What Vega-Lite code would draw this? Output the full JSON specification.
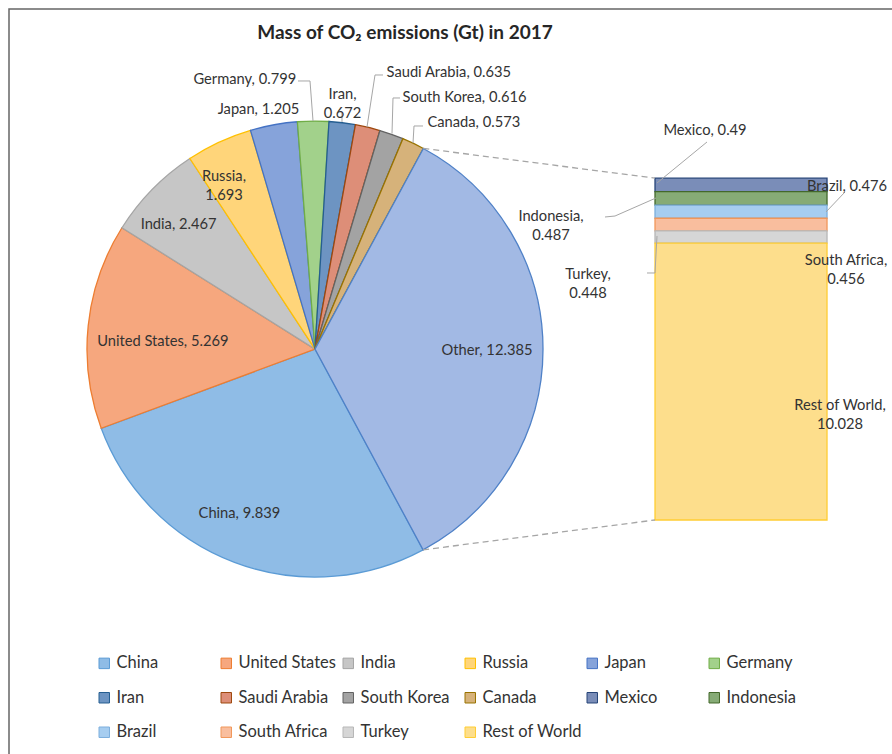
{
  "$schema": "https://vega.github.io/schema/vega-lite/v6.json",
  "width": 890,
  "height": 752,
  "autosize": {"type": "none"},
  "padding": {"left": 9, "top": 9, "right": 0, "bottom": 0},
  "background": "white",
  "title": {"text": "Mass of CO₂ emissions (Gt) in 2017", "font": "Lato", "fontSize": 19, "fontWeight": "bold", "color": "#262626", "anchor": "middle", "dx": -49, "offset": -34},
  "config": {
    "view": {"stroke": "#666666", "strokeWidth": 1.5},
    "axis": {"disable": true},
    "text": {"font": "Lato", "fontSize": 14.7, "fill": "#333333", "lineBreak": "\n", "lineHeight": 19, "baseline": "middle", "align": "center"}
  },
  "data": {"values": [
    {"part": "pie", "country": "China", "value": 9.839, "order": 1},
    {"part": "pie", "country": "United States", "value": 5.269, "order": 2},
    {"part": "pie", "country": "India", "value": 2.467, "order": 3},
    {"part": "pie", "country": "Russia", "value": 1.693, "order": 4},
    {"part": "pie", "country": "Japan", "value": 1.205, "order": 5},
    {"part": "pie", "country": "Germany", "value": 0.799, "order": 6},
    {"part": "pie", "country": "Iran", "value": 0.672, "order": 7},
    {"part": "pie", "country": "Saudi Arabia", "value": 0.635, "order": 8},
    {"part": "pie", "country": "South Korea", "value": 0.616, "order": 9},
    {"part": "pie", "country": "Canada", "value": 0.573, "order": 10},
    {"part": "pie", "country": "Other", "value": 12.385, "order": 11},
    {"part": "bar", "country": "Mexico", "value": 0.49, "order": 1},
    {"part": "bar", "country": "Indonesia", "value": 0.487, "order": 2},
    {"part": "bar", "country": "Brazil", "value": 0.476, "order": 3},
    {"part": "bar", "country": "South Africa", "value": 0.456, "order": 4},
    {"part": "bar", "country": "Turkey", "value": 0.448, "order": 5},
    {"part": "bar", "country": "Rest of World", "value": 10.028, "order": 6}
  ]},
  "transform": [
    {"calculate": "indexof(['Russia','Iran','Indonesia','Turkey','South Africa','Rest of World'], datum.country) >= 0 ? datum.country + ',\\n' + datum.value : datum.country + ', ' + datum.value", "as": "label"}
  ],
  "layer": [
    {
      "transform": [{"filter": "datum.part === 'pie'"}],
      "mark": {"type": "arc", "outerRadius": 228, "strokeWidth": 1.3},
      "encoding": {
        "theta": {"field": "value", "type": "quantitative", "stack": true, "scale": {"range": [2.6477, 8.9309]}},
        "order": {"field": "order"},
        "x": {"datum": 0, "type": "quantitative", "scale": {"domain": [-11.087, 21.159], "nice": false, "zero": false}},
        "y": {"datum": 6.1925, "type": "quantitative", "scale": {"domain": [-8.732, 18.514], "nice": false, "zero": false}},
        "fill": {"field": "country", "type": "nominal",
          "scale": {"domain": ["China","United States","India","Russia","Japan","Germany","Iran","Saudi Arabia","South Korea","Canada","Mexico","Indonesia","Brazil","South Africa","Turkey","Rest of World","Other"],
                    "range": ["#8FBCE6","#F6A77E","#C6C6C6","#FFD57A","#86A3DA","#A2D18B","#6D94C2","#DD8E78","#A3A3A3","#D6B27A","#7A8DB8","#86AB76","#A6CDF0","#F9BE9E","#D6D6D6","#FDDE8C","#A2B9E4"]},
          "legend": {"values": ["China","United States","India","Russia","Japan","Germany","Iran","Saudi Arabia","South Korea","Canada","Mexico","Indonesia","Brazil","South Africa","Turkey","Rest of World"],
                     "orient": "none", "direction": "horizontal", "legendX": 87, "legendY": 646, "columns": 6, "gridAlign": "all", "columnPadding": 1, "rowPadding": 17.5, "title": null,
                     "symbolType": "square", "symbolSize": 110, "symbolStrokeWidth": 1, "labelFont": "Lato", "labelFontSize": 16.5, "labelColor": "#333333", "labelOffset": 4}},
        "stroke": {"field": "country", "type": "nominal",
          "scale": {"domain": ["China","United States","India","Russia","Japan","Germany","Iran","Saudi Arabia","South Korea","Canada","Mexico","Indonesia","Brazil","South Africa","Turkey","Rest of World","Other"],
                    "range": ["#5B9BD5","#ED7D31","#A5A5A5","#FFC000","#4472C4","#70AD47","#255E91","#9E480E","#636363","#997300","#264478","#43682B","#7CAFDD","#F1975A","#B7B7B7","#FFCD33","#4F81C7"]},
          "legend": {"values": ["China","United States","India","Russia","Japan","Germany","Iran","Saudi Arabia","South Korea","Canada","Mexico","Indonesia","Brazil","South Africa","Turkey","Rest of World"],
                     "orient": "none", "direction": "horizontal", "legendX": 87, "legendY": 646, "columns": 6, "gridAlign": "all", "columnPadding": 1, "rowPadding": 17.5, "title": null,
                     "symbolType": "square", "symbolSize": 110, "symbolStrokeWidth": 1, "labelFont": "Lato", "labelFontSize": 16.5, "labelColor": "#333333", "labelOffset": 4}}
      }
    },
    {
      "transform": [{"filter": "datum.part === 'bar'"}, {"stack": "value", "groupby": [], "sort": [{"field": "order", "order": "descending"}], "as": ["y0", "y1"]}],
      "mark": {"type": "rect", "strokeWidth": 1.3},
      "encoding": {
        "x": {"datum": 12.319, "type": "quantitative", "scale": {"domain": [-11.087, 21.159], "nice": false, "zero": false}},
        "x2": {"datum": 18.551},
        "y": {"field": "y0", "type": "quantitative", "scale": {"domain": [-8.732, 18.514], "nice": false, "zero": false}},
        "y2": {"field": "y1"},
        "fill": {"field": "country", "type": "nominal"},
        "stroke": {"field": "country", "type": "nominal"}
      }
    },
    {"data": {"values": [{}]}, "mark": {"type": "rule", "color": "#A6A6A6", "strokeWidth": 1.3, "strokeDash": [6, 4]},
     "encoding": {"x": {"datum": 3.925, "type": "quantitative", "scale": {"domain": [-11.087, 21.159], "nice": false, "zero": false}}, "y": {"datum": 13.463, "type": "quantitative", "scale": {"domain": [-8.732, 18.514], "nice": false, "zero": false}}, "x2": {"datum": 12.319}, "y2": {"datum": 12.385}}},
    {"data": {"values": [{}]}, "mark": {"type": "rule", "color": "#A6A6A6", "strokeWidth": 1.3, "strokeDash": [6, 4]},
     "encoding": {"x": {"datum": 3.917, "type": "quantitative", "scale": {"domain": [-11.087, 21.159], "nice": false, "zero": false}}, "y": {"datum": -1.081, "type": "quantitative", "scale": {"domain": [-8.732, 18.514], "nice": false, "zero": false}}, "x2": {"datum": 12.319}, "y2": {"datum": 0}}},
    {"data": {"values": [{}]}, "mark": {"type": "rule", "color": "#A6A6A6", "strokeWidth": 1},
     "encoding": {"x": {"datum": -0.616, "type": "quantitative", "scale": {"domain": [-11.087, 21.159], "nice": false, "zero": false}}, "y": {"datum": 15.906, "type": "quantitative", "scale": {"domain": [-8.732, 18.514], "nice": false, "zero": false}}, "x2": {"datum": -0.181}, "y2": {"datum": 15.906}}},
    {"data": {"values": [{}]}, "mark": {"type": "rule", "color": "#A6A6A6", "strokeWidth": 1},
     "encoding": {"x": {"datum": -0.181, "type": "quantitative", "scale": {"domain": [-11.087, 21.159], "nice": false, "zero": false}}, "y": {"datum": 15.906, "type": "quantitative", "scale": {"domain": [-8.732, 18.514], "nice": false, "zero": false}}, "x2": {"datum": -0.072}, "y2": {"datum": 14.457}}},
    {"data": {"values": [{}]}, "mark": {"type": "rule", "color": "#A6A6A6", "strokeWidth": 1},
     "encoding": {"x": {"datum": 0.978, "type": "quantitative", "scale": {"domain": [-11.087, 21.159], "nice": false, "zero": false}}, "y": {"datum": 14.746, "type": "quantitative", "scale": {"domain": [-8.732, 18.514], "nice": false, "zero": false}}, "x2": {"datum": 0.978}, "y2": {"datum": 14.42}}},
    {"data": {"values": [{}]}, "mark": {"type": "rule", "color": "#A6A6A6", "strokeWidth": 1},
     "encoding": {"x": {"datum": 2.464, "type": "quantitative", "scale": {"domain": [-11.087, 21.159], "nice": false, "zero": false}}, "y": {"datum": 16.123, "type": "quantitative", "scale": {"domain": [-8.732, 18.514], "nice": false, "zero": false}}, "x2": {"datum": 2.174}, "y2": {"datum": 16.123}}},
    {"data": {"values": [{}]}, "mark": {"type": "rule", "color": "#A6A6A6", "strokeWidth": 1},
     "encoding": {"x": {"datum": 2.174, "type": "quantitative", "scale": {"domain": [-11.087, 21.159], "nice": false, "zero": false}}, "y": {"datum": 16.123, "type": "quantitative", "scale": {"domain": [-8.732, 18.514], "nice": false, "zero": false}}, "x2": {"datum": 1.884}, "y2": {"datum": 14.239}}},
    {"data": {"values": [{}]}, "mark": {"type": "rule", "color": "#A6A6A6", "strokeWidth": 1},
     "encoding": {"x": {"datum": 3.08, "type": "quantitative", "scale": {"domain": [-11.087, 21.159], "nice": false, "zero": false}}, "y": {"datum": 15.29, "type": "quantitative", "scale": {"domain": [-8.732, 18.514], "nice": false, "zero": false}}, "x2": {"datum": 2.826}, "y2": {"datum": 15.29}}},
    {"data": {"values": [{}]}, "mark": {"type": "rule", "color": "#A6A6A6", "strokeWidth": 1},
     "encoding": {"x": {"datum": 2.826, "type": "quantitative", "scale": {"domain": [-11.087, 21.159], "nice": false, "zero": false}}, "y": {"datum": 15.29, "type": "quantitative", "scale": {"domain": [-8.732, 18.514], "nice": false, "zero": false}}, "x2": {"datum": 2.79}, "y2": {"datum": 14.0}}},
    {"data": {"values": [{}]}, "mark": {"type": "rule", "color": "#A6A6A6", "strokeWidth": 1},
     "encoding": {"x": {"datum": 3.913, "type": "quantitative", "scale": {"domain": [-11.087, 21.159], "nice": false, "zero": false}}, "y": {"datum": 14.275, "type": "quantitative", "scale": {"domain": [-8.732, 18.514], "nice": false, "zero": false}}, "x2": {"datum": 3.587}, "y2": {"datum": 14.275}}},
    {"data": {"values": [{}]}, "mark": {"type": "rule", "color": "#A6A6A6", "strokeWidth": 1},
     "encoding": {"x": {"datum": 3.587, "type": "quantitative", "scale": {"domain": [-11.087, 21.159], "nice": false, "zero": false}}, "y": {"datum": 14.275, "type": "quantitative", "scale": {"domain": [-8.732, 18.514], "nice": false, "zero": false}}, "x2": {"datum": 3.551}, "y2": {"datum": 13.659}}},
    {"data": {"values": [{}]}, "mark": {"type": "rule", "color": "#A6A6A6", "strokeWidth": 1},
     "encoding": {"x": {"datum": 14.203, "type": "quantitative", "scale": {"domain": [-11.087, 21.159], "nice": false, "zero": false}}, "y": {"datum": 13.696, "type": "quantitative", "scale": {"domain": [-8.732, 18.514], "nice": false, "zero": false}}, "x2": {"datum": 12.391}, "y2": {"datum": 12.21}}},
    {"data": {"values": [{}]}, "mark": {"type": "rule", "color": "#A6A6A6", "strokeWidth": 1},
     "encoding": {"x": {"datum": 10.507, "type": "quantitative", "scale": {"domain": [-11.087, 21.159], "nice": false, "zero": false}}, "y": {"datum": 10.978, "type": "quantitative", "scale": {"domain": [-8.732, 18.514], "nice": false, "zero": false}}, "x2": {"datum": 10.87}, "y2": {"datum": 11.014}}},
    {"data": {"values": [{}]}, "mark": {"type": "rule", "color": "#A6A6A6", "strokeWidth": 1},
     "encoding": {"x": {"datum": 10.87, "type": "quantitative", "scale": {"domain": [-11.087, 21.159], "nice": false, "zero": false}}, "y": {"datum": 11.014, "type": "quantitative", "scale": {"domain": [-8.732, 18.514], "nice": false, "zero": false}}, "x2": {"datum": 12.355}, "y2": {"datum": 11.667}}},
    {"data": {"values": [{}]}, "mark": {"type": "rule", "color": "#A6A6A6", "strokeWidth": 1},
     "encoding": {"x": {"datum": 19.203, "type": "quantitative", "scale": {"domain": [-11.087, 21.159], "nice": false, "zero": false}}, "y": {"datum": 11.884, "type": "quantitative", "scale": {"domain": [-8.732, 18.514], "nice": false, "zero": false}}, "x2": {"datum": 18.514}, "y2": {"datum": 11.159}}},
    {"data": {"values": [{}]}, "mark": {"type": "rule", "color": "#A6A6A6", "strokeWidth": 1},
     "encoding": {"x": {"datum": 12.029, "type": "quantitative", "scale": {"domain": [-11.087, 21.159], "nice": false, "zero": false}}, "y": {"datum": 8.949, "type": "quantitative", "scale": {"domain": [-8.732, 18.514], "nice": false, "zero": false}}, "x2": {"datum": 12.319}, "y2": {"datum": 8.949}}},
    {"data": {"values": [{}]}, "mark": {"type": "rule", "color": "#A6A6A6", "strokeWidth": 1},
     "encoding": {"x": {"datum": 12.319, "type": "quantitative", "scale": {"domain": [-11.087, 21.159], "nice": false, "zero": false}}, "y": {"datum": 8.949, "type": "quantitative", "scale": {"domain": [-8.732, 18.514], "nice": false, "zero": false}}, "x2": {"datum": 12.391}, "y2": {"datum": 10.29}}},
    {"transform": [{"filter": "datum.part === 'pie'"}], "mark": {"type": "text", "radius": 180, "dx": -12, "dy": -3},
     "encoding": {"theta": {"field": "value", "type": "quantitative", "stack": true}, "order": {"field": "order"}, "x": {"datum": 0, "type": "quantitative", "scale": {"domain": [-11.087, 21.159], "nice": false, "zero": false}}, "y": {"datum": 6.1925, "type": "quantitative", "scale": {"domain": [-8.732, 18.514], "nice": false, "zero": false}}, "text": {"condition": {"test": "datum.country === 'China'", "field": "label"}, "value": ""}}},
    {"transform": [{"filter": "datum.part === 'pie'"}], "mark": {"type": "text", "radius": 152, "dx": -1, "dy": 9},
     "encoding": {"theta": {"field": "value", "type": "quantitative", "stack": true}, "order": {"field": "order"}, "x": {"datum": 0, "type": "quantitative", "scale": {"domain": [-11.087, 21.159], "nice": false, "zero": false}}, "y": {"datum": 6.1925, "type": "quantitative", "scale": {"domain": [-8.732, 18.514], "nice": false, "zero": false}}, "text": {"condition": {"test": "datum.country === 'United States'", "field": "label"}, "value": ""}}},
    {"transform": [{"filter": "datum.part === 'pie'"}], "mark": {"type": "text", "radius": 184, "dx": -5, "dy": 5},
     "encoding": {"theta": {"field": "value", "type": "quantitative", "stack": true}, "order": {"field": "order"}, "x": {"datum": 0, "type": "quantitative", "scale": {"domain": [-11.087, 21.159], "nice": false, "zero": false}}, "y": {"datum": 6.1925, "type": "quantitative", "scale": {"domain": [-8.732, 18.514], "nice": false, "zero": false}}, "text": {"condition": {"test": "datum.country === 'India'", "field": "label"}, "value": ""}}},
    {"transform": [{"filter": "datum.part === 'pie'"}], "mark": {"type": "text", "radius": 195, "dx": -9, "dy": 5},
     "encoding": {"theta": {"field": "value", "type": "quantitative", "stack": true}, "order": {"field": "order"}, "x": {"datum": 0, "type": "quantitative", "scale": {"domain": [-11.087, 21.159], "nice": false, "zero": false}}, "y": {"datum": 6.1925, "type": "quantitative", "scale": {"domain": [-8.732, 18.514], "nice": false, "zero": false}}, "text": {"condition": {"test": "datum.country === 'Russia'", "field": "label"}, "value": ""}}},
    {"transform": [{"filter": "datum.part === 'pie'"}], "mark": {"type": "text", "radius": 246, "dx": -12, "dy": 3},
     "encoding": {"theta": {"field": "value", "type": "quantitative", "stack": true}, "order": {"field": "order"}, "x": {"datum": 0, "type": "quantitative", "scale": {"domain": [-11.087, 21.159], "nice": false, "zero": false}}, "y": {"datum": 6.1925, "type": "quantitative", "scale": {"domain": [-8.732, 18.514], "nice": false, "zero": false}}, "text": {"condition": {"test": "datum.country === 'Japan'", "field": "label"}, "value": ""}}},
    {"transform": [{"filter": "datum.part === 'pie'"}], "mark": {"type": "text", "radius": 270, "dx": -68, "dy": 1},
     "encoding": {"theta": {"field": "value", "type": "quantitative", "stack": true}, "order": {"field": "order"}, "x": {"datum": 0, "type": "quantitative", "scale": {"domain": [-11.087, 21.159], "nice": false, "zero": false}}, "y": {"datum": 6.1925, "type": "quantitative", "scale": {"domain": [-8.732, 18.514], "nice": false, "zero": false}}, "text": {"condition": {"test": "datum.country === 'Germany'", "field": "label"}, "value": ""}}},
    {"transform": [{"filter": "datum.part === 'pie'"}], "mark": {"type": "text", "radius": 255, "dx": -3, "dy": -1},
     "encoding": {"theta": {"field": "value", "type": "quantitative", "stack": true}, "order": {"field": "order"}, "x": {"datum": 0, "type": "quantitative", "scale": {"domain": [-11.087, 21.159], "nice": false, "zero": false}}, "y": {"datum": 6.1925, "type": "quantitative", "scale": {"domain": [-8.732, 18.514], "nice": false, "zero": false}}, "text": {"condition": {"test": "datum.country === 'Iran'", "field": "label"}, "value": ""}}},
    {"transform": [{"filter": "datum.part === 'pie'"}], "mark": {"type": "text", "radius": 280, "dx": 69, "dy": -4},
     "encoding": {"theta": {"field": "value", "type": "quantitative", "stack": true}, "order": {"field": "order"}, "x": {"datum": 0, "type": "quantitative", "scale": {"domain": [-11.087, 21.159], "nice": false, "zero": false}}, "y": {"datum": 6.1925, "type": "quantitative", "scale": {"domain": [-8.732, 18.514], "nice": false, "zero": false}}, "text": {"condition": {"test": "datum.country === 'Saudi Arabia'", "field": "label"}, "value": ""}}},
    {"transform": [{"filter": "datum.part === 'pie'"}], "mark": {"type": "text", "radius": 255, "dx": 64, "dy": -11},
     "encoding": {"theta": {"field": "value", "type": "quantitative", "stack": true}, "order": {"field": "order"}, "x": {"datum": 0, "type": "quantitative", "scale": {"domain": [-11.087, 21.159], "nice": false, "zero": false}}, "y": {"datum": 6.1925, "type": "quantitative", "scale": {"domain": [-8.732, 18.514], "nice": false, "zero": false}}, "text": {"condition": {"test": "datum.country === 'South Korea'", "field": "label"}, "value": ""}}},
    {"transform": [{"filter": "datum.part === 'pie'"}], "mark": {"type": "text", "radius": 255, "dx": 49, "dy": 4},
     "encoding": {"theta": {"field": "value", "type": "quantitative", "stack": true}, "order": {"field": "order"}, "x": {"datum": 0, "type": "quantitative", "scale": {"domain": [-11.087, 21.159], "nice": false, "zero": false}}, "y": {"datum": 6.1925, "type": "quantitative", "scale": {"domain": [-8.732, 18.514], "nice": false, "zero": false}}, "text": {"condition": {"test": "datum.country === 'Canada'", "field": "label"}, "value": ""}}},
    {"transform": [{"filter": "datum.part === 'pie'"}], "mark": {"type": "text", "radius": 172, "dx": 0, "dy": 2},
     "encoding": {"theta": {"field": "value", "type": "quantitative", "stack": true}, "order": {"field": "order"}, "x": {"datum": 0, "type": "quantitative", "scale": {"domain": [-11.087, 21.159], "nice": false, "zero": false}}, "y": {"datum": 6.1925, "type": "quantitative", "scale": {"domain": [-8.732, 18.514], "nice": false, "zero": false}}, "text": {"condition": {"test": "datum.country === 'Other'", "field": "label"}, "value": ""}}},
    {"transform": [{"filter": "datum.part === 'bar'"}, {"stack": "value", "groupby": [], "sort": [{"field": "order", "order": "descending"}], "as": ["y0", "y1"]}, {"calculate": "(datum.y0 + datum.y1) / 2", "as": "ymid"}, {"filter": "datum.country === 'Mexico'"}],
     "mark": {"type": "text", "dx": -36, "dy": -54},
     "encoding": {"x": {"datum": 15.435, "type": "quantitative", "scale": {"domain": [-11.087, 21.159], "nice": false, "zero": false}}, "y": {"field": "ymid", "type": "quantitative", "scale": {"domain": [-8.732, 18.514], "nice": false, "zero": false}}, "text": {"field": "label"}}},
    {"transform": [{"filter": "datum.part === 'bar'"}, {"stack": "value", "groupby": [], "sort": [{"field": "order", "order": "descending"}], "as": ["y0", "y1"]}, {"calculate": "(datum.y0 + datum.y1) / 2", "as": "ymid"}, {"filter": "datum.country === 'Indonesia'"}],
     "mark": {"type": "text", "dx": -190, "dy": 19},
     "encoding": {"x": {"datum": 15.435, "type": "quantitative", "scale": {"domain": [-11.087, 21.159], "nice": false, "zero": false}}, "y": {"field": "ymid", "type": "quantitative", "scale": {"domain": [-8.732, 18.514], "nice": false, "zero": false}}, "text": {"field": "label"}}},
    {"transform": [{"filter": "datum.part === 'bar'"}, {"stack": "value", "groupby": [], "sort": [{"field": "order", "order": "descending"}], "as": ["y0", "y1"]}, {"calculate": "(datum.y0 + datum.y1) / 2", "as": "ymid"}, {"filter": "datum.country === 'Brazil'"}],
     "mark": {"type": "text", "align": "left", "dx": 66, "dy": -25},
     "encoding": {"x": {"datum": 15.435, "type": "quantitative", "scale": {"domain": [-11.087, 21.159], "nice": false, "zero": false}}, "y": {"field": "ymid", "type": "quantitative", "scale": {"domain": [-8.732, 18.514], "nice": false, "zero": false}}, "text": {"field": "label"}}},
    {"transform": [{"filter": "datum.part === 'bar'"}, {"stack": "value", "groupby": [], "sort": [{"field": "order", "order": "descending"}], "as": ["y0", "y1"]}, {"calculate": "(datum.y0 + datum.y1) / 2", "as": "ymid"}, {"filter": "datum.country === 'South Africa'"}],
     "mark": {"type": "text", "dx": 105, "dy": 36},
     "encoding": {"x": {"datum": 15.435, "type": "quantitative", "scale": {"domain": [-11.087, 21.159], "nice": false, "zero": false}}, "y": {"field": "ymid", "type": "quantitative", "scale": {"domain": [-8.732, 18.514], "nice": false, "zero": false}}, "text": {"field": "label"}}},
    {"transform": [{"filter": "datum.part === 'bar'"}, {"stack": "value", "groupby": [], "sort": [{"field": "order", "order": "descending"}], "as": ["y0", "y1"]}, {"calculate": "(datum.y0 + datum.y1) / 2", "as": "ymid"}, {"filter": "datum.country === 'Turkey'"}],
     "mark": {"type": "text", "dx": -153, "dy": 38},
     "encoding": {"x": {"datum": 15.435, "type": "quantitative", "scale": {"domain": [-11.087, 21.159], "nice": false, "zero": false}}, "y": {"field": "ymid", "type": "quantitative", "scale": {"domain": [-8.732, 18.514], "nice": false, "zero": false}}, "text": {"field": "label"}}},
    {"transform": [{"filter": "datum.part === 'bar'"}, {"stack": "value", "groupby": [], "sort": [{"field": "order", "order": "descending"}], "as": ["y0", "y1"]}, {"calculate": "(datum.y0 + datum.y1) / 2", "as": "ymid"}, {"filter": "datum.country === 'Rest of World'"}],
     "mark": {"type": "text", "dx": 99, "dy": 24},
     "encoding": {"x": {"datum": 15.435, "type": "quantitative", "scale": {"domain": [-11.087, 21.159], "nice": false, "zero": false}}, "y": {"field": "ymid", "type": "quantitative", "scale": {"domain": [-8.732, 18.514], "nice": false, "zero": false}}, "text": {"field": "label"}}}
  ]
}
